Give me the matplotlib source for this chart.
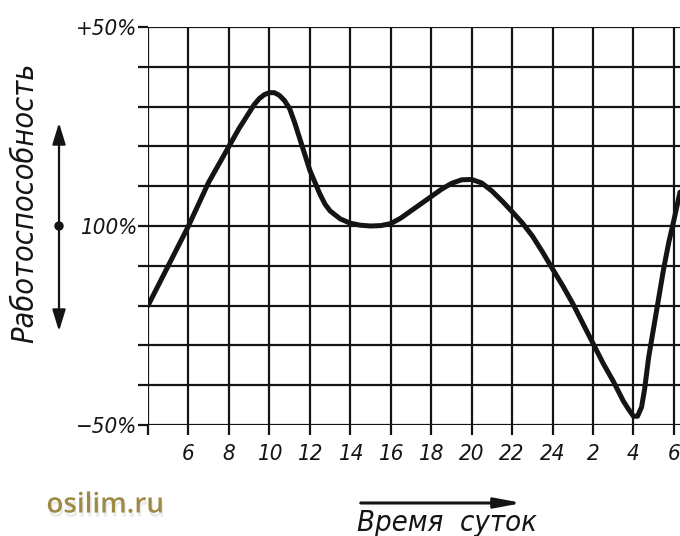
import numpy as np
import matplotlib
matplotlib.use('Agg')
import matplotlib.pyplot as plt
import matplotlib.patheffects as pe

# hours of the day, continuing past midnight (24 -> 26 = 2 am etc.)
hours = [4, 4.5, 5, 5.5, 6, 6.5, 7, 7.5, 8, 8.5, 9, 9.25, 9.5, 9.75, 10,
         10.25, 10.5, 10.75, 11, 11.25, 11.5, 11.75, 12, 12.25, 12.5, 12.75,
         13, 13.5, 14, 14.5, 15, 15.5, 16, 16.5, 17, 17.5, 18, 18.5, 19, 19.5,
         20, 20.5, 21, 21.5, 22, 22.5, 23, 23.5, 24, 24.5, 25, 25.5, 26, 26.5,
         27, 27.25, 27.5, 27.75, 28, 28.2, 28.4, 28.55, 28.75, 29, 29.25,
         29.5, 29.75, 30, 30.3]
# deviation of work capacity from the 100 % level, in percent
capacity = [-20, -15, -10, -5, 0, 5.5, 11, 15.5, 20, 24.5, 28.5, 30.5, 32, 33,
            33.5, 33.5, 32.8, 31.5, 29.5, 26, 22, 18, 14, 11, 8, 5.5,
            3.8, 1.8, 0.7, 0.2, 0, 0.1, 0.6, 2, 3.8, 5.6, 7.4, 9.2, 10.7, 11.6,
            11.7, 10.8, 8.8, 6.3, 3.6, 0.8, -2.5, -6.5, -10.8, -15, -19.5,
            -24.5, -29.5, -34.5, -39, -41.5, -44, -46, -47.8, -47.8, -45.5,
            -41, -33, -25.5, -18, -10.5, -4, 1.5, 8.5]

xtick_pos = [6, 8, 10, 12, 14, 16, 18, 20, 22, 24, 26, 28, 30]
xtick_labels = ['6', '8', '10', '12', '14', '16', '18', '20', '22', '24',
                '2', '4', '6']
ytick_pos = [50, 0, -50]
ytick_labels = ['+50%', '100%', '\u221250%']

INK = '#141414'
FONT = dict(family='DejaVu Sans', style='italic', stretch='condensed')


def main():
    fig = plt.figure(figsize=(6.8, 5.36), dpi=100)
    ax = fig.add_axes([148 / 680, 1 - 425 / 536, 532 / 680, 398 / 536])

    # grid of the drawing paper
    for x in range(4, 31, 2):
        ax.axvline(x, color=INK, lw=1.6, zorder=1)
    for y in range(-50, 51, 10):
        ax.axhline(y, color=INK, lw=1.6, zorder=1)

    ax.plot(hours, capacity, color=INK, lw=3.6, solid_joinstyle='round',
            solid_capstyle='round', zorder=3)

    ax.set_xlim(4, 30.3)
    ax.set_ylim(-50, 50)
    for s in ax.spines.values():
        s.set_visible(False)

    ax.set_xticks(range(4, 31, 2))
    ax.set_xticklabels([''] + xtick_labels)
    ax.set_yticks(range(-50, 51, 10))
    ax.set_yticklabels([ytick_labels[ytick_pos.index(v)] if v in ytick_pos else ''
                        for v in range(-50, 51, 10)])
    ax.tick_params(axis='both', direction='out', length=7, width=1.6,
                   color=INK, labelcolor=INK)
    ax.tick_params(axis='x', pad=7, labelsize=16)
    ax.tick_params(axis='y', pad=1, labelsize=16)
    for lab in ax.get_xticklabels() + ax.get_yticklabels():
        lab.set_fontfamily(FONT['family'])
        lab.set_fontstyle(FONT['style'])
        lab.set_fontstretch(FONT['stretch'])

    # y axis caption with double arrow
    fig.text(25 / 680, 1 - 203 / 536, 'Работоспособность', rotation=90,
             ha='center', va='center', fontsize=22, color=INK, **FONT)
    y0 = 1 - 226 / 536
    xa = 59 / 680
    for y1 in (1 - 120 / 536, 1 - 334 / 536):
        fig.add_artist(matplotlib.patches.FancyArrowPatch(
            (xa, y0), (xa, y1), transform=fig.transFigure,
            arrowstyle='-|>,head_length=13,head_width=4', lw=1.6,
            color=INK, mutation_scale=1))
    fig.add_artist(matplotlib.patches.Ellipse(
        (xa, y0), 8 / 680, 8 / 536, transform=fig.transFigure,
        color=INK))

    # x axis caption with arrow
    fig.add_artist(matplotlib.patches.FancyArrowPatch(
        (358 / 680, 1 - 503 / 536), (525 / 680, 1 - 503 / 536),
        transform=fig.transFigure,
        arrowstyle='-|>,head_length=16,head_width=3', lw=2.2,
        color=INK, mutation_scale=1))
    fig.text(447 / 680, 1 - 523 / 536, 'Время  суток', ha='center',
             va='center', fontsize=21, color=INK, **FONT)

    fig.text(105 / 680, 1 - 505 / 536, 'osilim.ru', ha='center', va='center',
             fontsize=20, color='#9c8a45', family='Open Sans',
             fontweight='semibold',
             path_effects=[pe.SimplePatchShadow(offset=(1, -3),
                                                shadow_rgbFace='#9a9a9a',
                                                alpha=0.2),
                           pe.Normal()])

    fig.savefig('out.png', dpi=100, facecolor='white')
    plt.close('all')


if __name__ == '__main__':
    main()
